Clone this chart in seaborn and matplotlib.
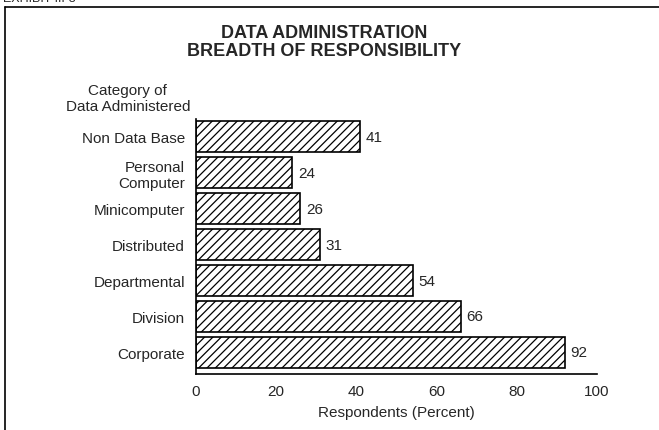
import matplotlib
matplotlib.use("Agg")
import matplotlib.pyplot as plt
import seaborn as sns
import pandas as pd
from matplotlib.lines import Line2D

# chart data, top to bottom as in the exhibit
categories = ["Non Data Base", "Personal\nComputer", "Minicomputer", "Distributed",
              "Departmental", "Division", "Corporate"]
percent = [41, 24, 26, 31, 54, 66, 92]
x_ticks = [0, 20, 40, 60, 80, 100]

df = pd.DataFrame({"Category": categories, "Percent": percent})

sns.set_style("white")
plt.rcParams["font.family"] = ["Liberation Sans", "DejaVu Sans"]
plt.rcParams["hatch.linewidth"] = 0.9

fig = plt.figure(figsize=(6.59, 4.31), dpi=100)
ax = fig.add_axes([0.2974, 0.1299, 0.6085, 0.5916])

sns.barplot(data=df, x="Percent", y="Category", orient="h", color="white",
            edgecolor="black", linewidth=1.2, hatch="////", width=0.88,
            saturation=1, ax=ax)

ax.set_xlim(0, 100)
ax.set_ylim(6.6, -0.49)
ax.set_xticks(x_ticks)
ax.bar_label(ax.containers[0], padding=4, fontsize=11)

ax.set_xlabel("Respondents (Percent)", fontsize=11, labelpad=5)
ax.set_ylabel("")
ax.tick_params(axis="x", direction="in", length=6, width=1, labelsize=11, pad=7, color="black")
ax.tick_params(axis="y", length=0, labelsize=11, pad=8)
for lbl in ax.get_yticklabels():
    lbl.set_horizontalalignment("right")
    lbl.set_multialignment("right")
    lbl.set_linespacing(1.15)

sns.despine(ax=ax, top=True, right=True)
for side in ["left", "bottom"]:
    ax.spines[side].set_color("black")
    ax.spines[side].set_linewidth(1.2)

# titles and axis caption
fig.text(0.492, 0.901, "DATA ADMINISTRATION\nBREADTH OF RESPONSIBILITY",
         ha="center", va="center", fontsize=13, fontweight="bold", linespacing=1.1)
fig.text(0.194, 0.770, "Category of\nData Administered", ha="center", va="center",
         fontsize=11, linespacing=1.2)
fig.text(0.005, 1 - 2 / 431, "EXHIBIT III-3", ha="left", va="baseline", fontsize=9)

# exhibit frame
fig.add_artist(Line2D([5 / 659, 5 / 659], [0, 1 - 8 / 431], transform=fig.transFigure,
                      color="black", linewidth=1.2))
fig.add_artist(Line2D([5 / 659, 1], [1 - 8 / 431, 1 - 8 / 431], transform=fig.transFigure,
                      color="black", linewidth=1.2))

fig.savefig("out.png", dpi=100)
